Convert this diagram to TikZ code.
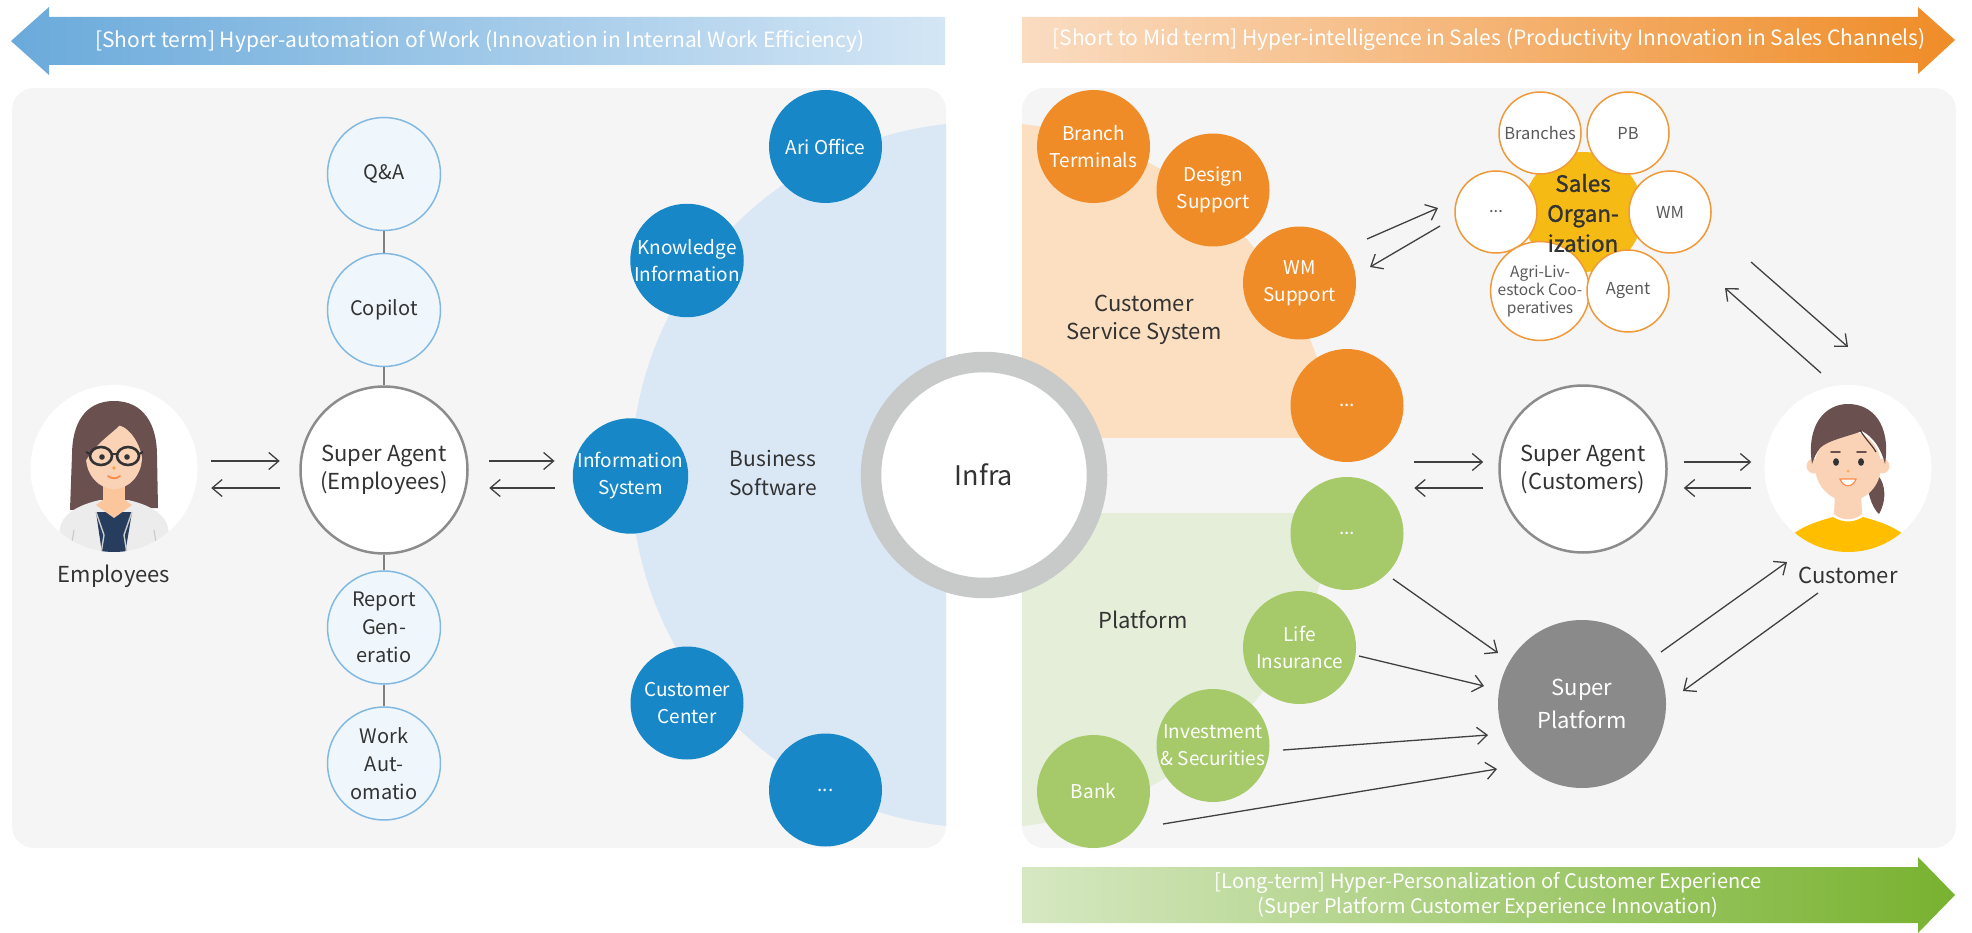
\documentclass[tikz,border=0pt]{standalone}
\usepackage{fontspec}
\setmainfont{Noto Sans CJK KR}
\newfontfamily\semibold{Noto Sans CJK KR}[FakeBold=1.2]
\usetikzlibrary{arrows.meta}

\definecolor{panelgray}{HTML}{F5F5F5}
\definecolor{ink}{HTML}{333333}
\definecolor{bluebg}{HTML}{DAE8F5}
\definecolor{bluedotc}{HTML}{1787C8}
\definecolor{orangebg}{HTML}{FBDFC0}
\definecolor{orangedotc}{HTML}{F08C28}
\definecolor{greenbg}{HTML}{E4EED8}
\definecolor{greendotc}{HTML}{A6C96A}
\definecolor{ringgray}{HTML}{C8C9C9}
\definecolor{agentline}{HTML}{8C8C8C}
\definecolor{taskline}{HTML}{82B9E3}
\definecolor{taskfill}{HTML}{F0F7FC}
\definecolor{platgray}{HTML}{8A8A8A}
\definecolor{salesyellow}{HTML}{F5BA14}
\definecolor{satline}{HTML}{F0993A}
\definecolor{satink}{HTML}{5A5A5A}
\definecolor{arrowc}{HTML}{404040}
\definecolor{linkgray}{HTML}{808080}
\definecolor{hairc}{HTML}{6B5050}
\definecolor{skin}{HTML}{FAD3B6}
\definecolor{coat}{HTML}{ECECEC}
\definecolor{navy}{HTML}{263D5E}
\definecolor{shirtyellow}{HTML}{FFBF00}
\definecolor{bannerblueA}{RGB}{106,170,219}
\definecolor{bannerblueB}{RGB}{212,230,245}
\definecolor{bannerorangeA}{RGB}{250,220,194}
\definecolor{bannerorangeB}{RGB}{239,140,39}
\definecolor{bannergreenA}{RGB}{214,232,194}
\definecolor{bannergreenB}{RGB}{120,178,47}

\begin{document}
\begin{tikzpicture}[x=1pt,y=-1pt,
  lbl/.style={text=ink, align=center, font=\fontsize{22}{28}\selectfont},
  agent/.style={circle, draw=agentline, line width=2.5pt, fill=white,
    minimum size=167pt, inner sep=0pt, lbl},
  task/.style={circle, draw=taskline, line width=1.5pt, fill=taskfill,
    minimum size=113pt, inner sep=0pt, text=ink, align=center,
    font=\fontsize{20}{28}\selectfont},
  dot/.style={circle, minimum size=113pt, inner sep=0pt, text=white,
    align=center, font=\fontsize{19}{27}\selectfont},
  bluedot/.style={dot, fill=bluedotc},
  orangedot/.style={dot, fill=orangedotc},
  greendot/.style={dot, fill=greendotc},
  sat/.style={circle, draw=satline, line width=1.5pt, fill=white,
    minimum size=82pt, inner sep=0pt, text=satink, align=center,
    font=\fontsize{16.5}{20}\selectfont},
  avatar/.style={circle, fill=white, minimum size=167pt, inner sep=0pt},
  arr/.style={draw=arrowc, line width=1.3pt,
    -{Straight Barb[length=10pt,width=17pt]}},
  link/.style={draw=linkgray, line width=1.6pt},
  banner/.style={text=white, align=center, font=\fontsize{21}{24}\selectfont}
]
\useasboundingbox (0,0) rectangle (1972,933);

% ---------- banners ----------
\shade[left color=bannerblueA, right color=bannerblueB]
  (11,41) -- (49,7) -- (49,17) -- (945,17) -- (945,65) -- (49,65) -- (49,75) -- cycle;
\node[banner] (bannerL) at (480,41)
  {[Short term] Hyper-automation of Work (Innovation in Internal Work Efficiency)};

\shade[left color=bannerorangeA, right color=bannerorangeB]
  (1022,17) -- (1918,17) -- (1918,7) -- (1955,40) -- (1918,74) -- (1918,63) -- (1022,63) -- cycle;
\node[banner] (bannerR) at (1489,40)
  {[Short to Mid term] Hyper-intelligence in Sales (Productivity Innovation in Sales Channels)};

\shade[left color=bannergreenA, right color=bannergreenB]
  (1022,867) -- (1918,867) -- (1918,857) -- (1955,895) -- (1918,933) -- (1918,923) -- (1022,923) -- cycle;
\node[banner, font=\fontsize{20}{25}\selectfont] (bannerB) at (1488,895)
  {[Long-term] Hyper-Personalization of Customer Experience\\(Super Platform Customer Experience Innovation)};

% ---------- panels ----------
\fill[panelgray, rounded corners=22pt] (12,88) rectangle (946,848);
\fill[panelgray, rounded corners=22pt] (1022,88) rectangle (1956,848);

% ---------- quarter regions around the core ----------
\begin{scope}
  \clip (12,88) rectangle (946,848);
  \fill[bluebg] (984,475) circle (353pt);
\end{scope}
\begin{scope}
  \clip (1022,88) rectangle (1956,437);
  \fill[orangebg] (984,475) circle (353pt);
\end{scope}
\begin{scope}
  \clip (1022,513) rectangle (1956,848);
  \fill[greenbg] (984,475) circle (353pt);
\end{scope}

% ---------- core ----------
\node[circle, draw=ringgray, line width=20.5pt, fill=white, minimum size=226pt,
  inner sep=0pt, text=ink, font=\fontsize{27}{30}\selectfont] (infra) at (984,475) {Infra};

% ---------- left: employees side ----------
\node[avatar] (emp) at (114,468.5) {};
\begin{scope}
  \clip (114,468.5) circle (83.5pt);
  % long hair behind
  \fill[hairc] (114,401) .. controls (84,401) and (72,425) .. (72,455)
    -- (70,510) -- (158,508) -- (157,455) .. controls (157,425) and (144,401) .. (114,401) -- cycle;
  % coat
  \fill[coat] (56,560) -- (60,528) .. controls (63,512) and (82,504) .. (100,500)
    -- (128,500) .. controls (146,504) and (165,512) .. (168,528) -- (174,560) -- cycle;
  \fill[navy] (96,512) -- (132,512) -- (124,560) -- (103,560) -- cycle;
  \draw[coat!70!gray, line width=1.4pt] (96,512) -- (104,535) -- (100,560);
  \draw[coat!70!gray, line width=1.4pt] (132,512) -- (124,535) -- (128,560);
  \draw[coat!70!gray, line width=1.2pt] (74,530) -- (70,555);
  \draw[coat!70!gray, line width=1.2pt] (154,530) -- (158,555);
  % neck
  \fill[skin!85!orange] (103,484) rectangle (125,506);
  \fill[skin!85!orange] (96,505) -- (114,518) -- (132,505) -- (125,500) -- (103,500) -- cycle;
  % face
  \fill[skin] (114,457) ellipse [x radius=28pt, y radius=32pt];
  % fringe
  \fill[hairc] (85,462) .. controls (82,422) and (100,410) .. (116,410)
    .. controls (133,410) and (147,425) .. (143,462)
    .. controls (140,442) and (131,430) .. (120,425)
    .. controls (110,435) and (96,443) .. (85,462) -- cycle;
  % glasses
  \draw[ink, line width=2.6pt] (101,456) ellipse [x radius=11pt, y radius=9pt];
  \draw[ink, line width=2.6pt] (128,456) ellipse [x radius=11pt, y radius=9pt];
  \draw[ink, line width=2.2pt] (112,454) -- (117,454);
  \draw[ink, line width=2.2pt] (90,454) -- (86,452);
  \draw[ink, line width=2.2pt] (139,454) -- (143,452);
  \fill[ink] (102,457) circle (2.8pt);
  \fill[ink] (127,457) circle (2.8pt);
  % nose and mouth
  \fill[orange!60!skin] (114,468) circle (1.8pt);
  \draw[orange!70!red!60!skin, line width=1.8pt, line cap=round] (108,476) .. controls (111,479) and (117,479) .. (120,476);
\end{scope}
\node[lbl] (empL) at (114,576) {Employees};

\node[agent] (sae) at (384,470) {Super Agent\\(Employees)};
\node[task] (qa) at (384,174) {Q\&A};
\node[task] (copilot) at (384,310) {Copilot};
\node[task] (report) at (384,627.5) {Report\\Gen-\\eratio};
\node[task] (work) at (384,763.5) {Work\\Aut-\\omatio};
\draw[link] (qa) -- (copilot);
\draw[link] (copilot) -- (sae);
\draw[link] (sae) -- (report);
\draw[link] (report) -- (work);

\draw[arr] ([shift={(13.5,-7.5)}]emp.east) -- ([shift={(-19.5,-9)}]sae.west);
\draw[arr] ([shift={(-19.5,18)}]sae.west) -- ([shift={(13.5,19.5)}]emp.east);

% business software
\node[bluedot] (infosys) at (630.5,476) {Information\\System};
\node[bluedot] (know) at (687,260.5) {Knowledge\\Information};
\node[bluedot] (ari) at (825.5,146.5) {Ari Office};
\node[bluedot] (custc) at (687,703) {Customer\\Center};
\node[bluedot] (bdots) at (825.5,790) {...};
\node[lbl, font=\fontsize{21}{29}\selectfont] (bizsw) at (773,472.5) {Business\\Software};

\draw[arr] ([shift={(20.5,-9)}]sae.east) -- ([shift={(-18,-15)}]infosys.west);
\draw[arr] ([shift={(-18,12)}]infosys.west) -- ([shift={(20.5,18)}]sae.east);

% ---------- right: customer service system ----------
\node[orangedot] (branch) at (1093.5,146.5) {Branch\\Terminals};
\node[orangedot] (design) at (1213,190) {Design\\Support};
\node[orangedot] (wms) at (1299.5,283) {WM\\Support};
\node[orangedot] (odots) at (1347,405.5) {...};
\node[lbl] (css) at (1144,320) {Customer\\Service System};

% platform
\node[greendot] (gdots) at (1347,533.5) {...};
\node[greendot] (life) at (1299.5,647.5) {Life\\Insurance};
\node[greendot] (invest) at (1213,745.5) {Investment\\\& Securities};
\node[greendot] (bank) at (1093.5,791.5) {Bank};
\node[lbl] (platL) at (1143,620) {Platform};

% sales organization
\fill[salesyellow] (1583,212) circle (60pt);
\node[sat] (sbranch) at (1540,133) {Branches};
\node[sat] (spb) at (1628,133) {PB};
\node[sat] (sdots) at (1496,212) {...};
\node[sat] (swm) at (1670,212) {WM};
\node[sat, font=\fontsize{15.5}{18}\selectfont] (sagri) at (1540,291) {Agri-Liv-\\estock Coo-\\peratives};
\node[sat] (sagent) at (1628,291) {Agent};
\node[text=ink, align=center, font=\semibold\fontsize{22.5}{30}\selectfont] (sales) at (1583,213)
  {Sales\\Organ-\\ization};

% super agent (customers) and super platform
\node[agent] (sac) at (1583,469) {Super Agent\\(Customers)};
\node[circle, fill=platgray, minimum size=168pt, inner sep=0pt, text=white, align=center,
  font=\fontsize{22}{33}\selectfont] (sp) at (1582,704) {Super\\Platform};

% customer avatar
\node[avatar] (cust) at (1848,468.5) {};
\begin{scope}
  \clip (1848,468.5) circle (83.5pt);
  % ponytail
  \fill[hairc] (1872,470) .. controls (1887,480) and (1887,500) .. (1879,514)
    .. controls (1871,507) and (1867,490) .. (1867,478) -- cycle;
  % shirt
  \fill[shirtyellow] (1782,545) .. controls (1795,528) and (1815,522) .. (1833,517)
    .. controls (1843,523) and (1853,523) .. (1863,517)
    .. controls (1881,522) and (1901,528) .. (1914,545) -- (1914,560) -- (1782,560) -- cycle;
  % neck and shoulders
  \fill[skin] (1835,492) -- (1861,492) -- (1862,514) .. controls (1855,521) and (1841,521) .. (1834,514) -- cycle;
  % ears
  \fill[skin] (1814,466) circle (7.5pt);
  \fill[skin] (1882,466) circle (7.5pt);
  % face
  \fill[skin] (1848,466) ellipse [x radius=33pt, y radius=35pt];
  % hair cap
  \fill[hairc] (1812,464) .. controls (1806,425) and (1825,404) .. (1848,404)
    .. controls (1873,404) and (1891,425) .. (1885,464)
    .. controls (1881,448) and (1873,437) .. (1862,431)
    .. controls (1850,436) and (1828,440) .. (1820,448)
    .. controls (1816,453) and (1814,458) .. (1812,464) -- cycle;
  \draw[hairc!70!black, line width=1.2pt] (1860,430) .. controls (1866,440) and (1872,445) .. (1876,452);
  % eyes and brows
  \fill[ink] (1836,462) ellipse [x radius=3pt, y radius=3.8pt];
  \fill[ink] (1861,462) ellipse [x radius=3pt, y radius=3.8pt];
  \draw[hairc, line width=1.6pt, line cap=round] (1831,452) -- (1840,452);
  \draw[hairc, line width=1.6pt, line cap=round] (1857,452) -- (1866,452);
  % nose and smile
  \fill[orange!50!skin] (1848,471) circle (1.5pt);
  \fill[white] (1840,479) .. controls (1843,488) and (1853,488) .. (1856,479) -- cycle;
  \draw[orange!70!red!60!skin, line width=1.2pt] (1840,479) .. controls (1843,488) and (1853,488) .. (1856,479) -- cycle;
\end{scope}
\node[lbl] (custL) at (1848,575) {Customer};

% ---------- right connectors ----------
% WM Support <-> sales organization
\draw[arr] ([shift={(67.5,-44)}]wms.center) -- ([shift={(-58,-4)}]sdots.center);
\draw[arr] ([shift={(-56,14)}]sdots.center) -- ([shift={(70.5,-16)}]wms.center);
% sales organization <-> customer
\draw[arr] ([shift={(81,50)}]swm.center) -- ([shift={(0,-121.5)}]cust.center);
\draw[arr] ([shift={(-27,-95.5)}]cust.center) -- ([shift={(55,76)}]swm.center);
% channels <-> super agent (customers)
\draw[arr] ([shift={(-84,-7)}]sac.west) -- ([shift={(-15,-7)}]sac.west);
\draw[arr] ([shift={(-15,19)}]sac.west) -- ([shift={(-84,19)}]sac.west);
% super agent (customers) <-> customer
\draw[arr] ([shift={(16,-7)}]sac.east) -- ([shift={(-13,-6.5)}]cust.west);
\draw[arr] ([shift={(-13,19.5)}]cust.west) -- ([shift={(16,19)}]sac.east);
% platform members -> super platform
\draw[arr] ([shift={(46,45.5)}]gdots.center) -- ([shift={(-84,-51)}]sp.center);
\draw[arr] ([shift={(59.5,8.5)}]life.center) -- ([shift={(-98,-18)}]sp.center);
\draw[arr] ([shift={(70,4.5)}]invest.center) -- ([shift={(-94,31)}]sp.center);
\draw[arr] ([shift={(69.5,32.5)}]bank.center) -- ([shift={(-85,65)}]sp.center);
% super platform <-> customer
\draw[arr] ([shift={(79,-52)}]sp.center) -- ([shift={(-61,93.5)}]cust.center);
\draw[arr] ([shift={(-30,124.5)}]cust.center) -- ([shift={(101,-13)}]sp.center);
\end{tikzpicture}
\end{document}
